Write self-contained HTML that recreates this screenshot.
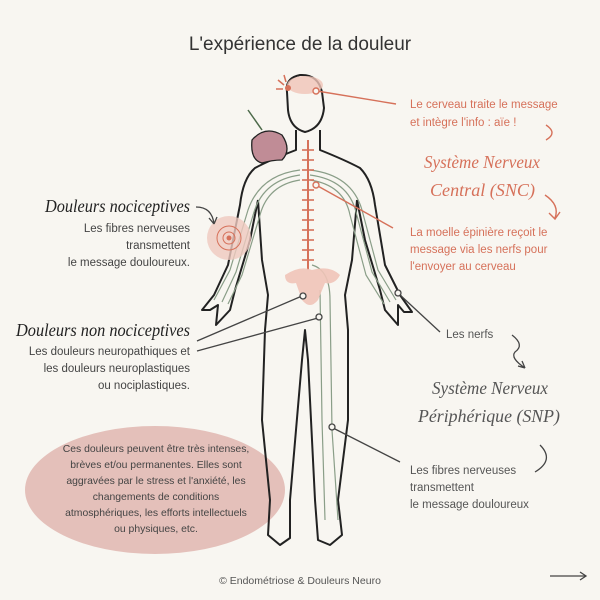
<!DOCTYPE html>
<html><head><meta charset="utf-8"><style>
body{margin:0;background:#f8f6f1;}
svg{display:block}
.s{font-family:"Liberation Sans",sans-serif;}
</style></head><body>
<svg width="600" height="600" viewBox="0 0 600 600" xmlns="http://www.w3.org/2000/svg" class="s">
<rect width="600" height="600" fill="#f8f6f1"/>
<text x="300" y="50" text-anchor="middle" font-size="19" fill="#333">L'expérience de la douleur</text>
<!-- blob -->
<ellipse cx="155" cy="490" rx="130" ry="64" fill="#e4c0ba"/>
<g font-size="10.4" fill="#444" text-anchor="middle">
<text x="156" y="452">Ces douleurs peuvent être très intenses,</text>
<text x="156" y="468">brèves et/ou permanentes. Elles sont</text>
<text x="156" y="484">aggravées par le stress et l'anxiété, les</text>
<text x="156" y="500">changements de conditions</text>
<text x="156" y="516">atmosphériques, les efforts intellectuels</text>
<text x="156" y="532">ou physiques, etc.</text>
</g>
<!-- body outline -->
<g fill="none" stroke="#222" stroke-width="2" stroke-linejoin="round">
<path d="M287 92 Q285 78 300 75 Q318 74 322 92 L324 108 Q322 128 305 132 Q290 128 288 110 Z"/>
<path d="M296 130 L296 150 Q270 160 255 168 Q243 178 240 205 L228 265 L214 295 L202 310 L210 310 L218 305 L216 325 L230 310 L235 290 L250 240 L258 200 M320 130 L320 150 Q345 160 360 168 Q372 180 375 205 L385 265 L400 295 L412 312 L404 312 L398 305 L398 325 L385 310 L380 290 L365 240 L357 200"/>
<path d="M258 200 L262 260 L268 295 L265 330 L262 420 L270 500 L268 535 L280 545 L290 538 L290 500 L302 360 L305 330 L308 360 L315 500 L318 540 L330 545 L342 535 L338 500 L348 420 L348 330 L345 295 L352 260 L357 200"/>
</g>
<!-- nerves -->
<g fill="none" stroke="#8a9e88" stroke-width="1.2">
<path d="M300 170 Q260 175 248 210 L230 270 L214 300"/>
<path d="M300 175 Q264 180 254 212 L236 272 L222 302"/>
<path d="M300 180 Q268 185 260 215 L242 275 L228 304"/>
<path d="M310 170 Q352 175 362 210 L378 270 L396 300"/>
<path d="M310 175 Q348 180 356 212 L372 272 L390 302"/>
<path d="M310 180 Q344 185 350 215 L366 275 L384 304"/>
<path d="M312 265 Q330 270 330 300 L332 430 L338 520"/>
<path d="M320 290 L322 420 L325 520"/>
</g>
<!-- spine -->
<line x1="308" y1="140" x2="308" y2="270" stroke="#d6715a" stroke-width="2"/>
<g stroke="#d6715a" stroke-width="1.6">
<line x1="302" y1="150" x2="314" y2="150"/><line x1="302" y1="160" x2="314" y2="160"/><line x1="302" y1="170" x2="314" y2="170"/><line x1="302" y1="180" x2="314" y2="180"/><line x1="302" y1="190" x2="314" y2="190"/><line x1="302" y1="200" x2="314" y2="200"/><line x1="302" y1="210" x2="314" y2="210"/><line x1="302" y1="220" x2="314" y2="220"/><line x1="302" y1="230" x2="314" y2="230"/><line x1="302" y1="240" x2="314" y2="240"/><line x1="302" y1="250" x2="314" y2="250"/><line x1="302" y1="260" x2="314" y2="260"/>
</g>
<!-- brain -->
<ellipse cx="305" cy="85" rx="18" ry="9" fill="#f0c4b8" opacity=".8"/>
<circle cx="288" cy="88" r="3" fill="#d6715a"/>
<path d="M278 80 L284 85 M276 89 L283 89 M284 75 L286 82" stroke="#d6715a" stroke-width="1.5"/>
<!-- uterus -->
<path d="M285 275 Q300 265 312 270 Q330 265 340 275 Q335 285 325 283 L318 300 Q310 310 302 300 L296 283 Q285 285 285 275Z" fill="#f0c4b8" opacity=".9"/>
<!-- pain target -->
<circle cx="229" cy="238" r="22" fill="#efc9bf" opacity=".8"/>
<circle cx="229" cy="238" r="12" fill="none" stroke="#d6715a"/>
<circle cx="229" cy="238" r="6" fill="none" stroke="#d6715a"/>
<circle cx="229" cy="238" r="2.5" fill="#d6715a"/>
<!-- beet -->
<path d="M252 140 Q265 125 282 135 Q292 150 282 160 Q272 160 262 163 Q250 160 252 140Z" fill="#c08c96" stroke="#222" stroke-width="1.3"/>
<path d="M262 130 L248 110" stroke="#4d6a4a" stroke-width="1.5"/>
<!-- connectors -->
<g stroke="#d6715a" stroke-width="1.4" fill="none">
<line x1="317" y1="91" x2="396" y2="104"/><circle cx="316" cy="91" r="3" fill="#f8f6f1"/>
<line x1="316" y1="185" x2="393" y2="228"/><circle cx="316" cy="185" r="3" fill="#f8f6f1"/>
<path d="M545 195 Q560 205 555 218 M560 212 L555 219 L549 213"/>
<path d="M546 125 Q558 133 546 140"/>
</g>
<g stroke="#444" stroke-width="1.3" fill="none">
<line x1="197" y1="341" x2="302" y2="296"/><circle cx="303" cy="296" r="3" fill="#f8f6f1"/>
<line x1="197" y1="351" x2="318" y2="318"/><circle cx="319" cy="317" r="3" fill="#f8f6f1"/>
<line x1="399" y1="294" x2="440" y2="332"/><circle cx="398" cy="293" r="3" fill="#f8f6f1"/>
<line x1="333" y1="428" x2="400" y2="462"/><circle cx="332" cy="427" r="3" fill="#f8f6f1"/>
<path d="M196 207 Q212 207 214 224 M214 224 L209 218 M214 224 L217 217"/>
<path d="M512 335 Q525 345 515 352 Q510 358 525 368 M525 368 L518 366 M525 368 L522 361"/>
<path d="M540 445 Q555 460 535 472"/>
<line x1="550" y1="576" x2="586" y2="576"/><path d="M580 572 L586 576 L580 580"/>
</g>
<!-- right texts -->
<g font-size="11.5" fill="#d6715a">
<text x="410" y="108">Le cerveau traite le message</text>
<text x="410" y="126">et intègre l'info : aïe !</text>
<text x="410" y="236">La moelle épinière reçoit le</text>
<text x="410" y="253">message via les nerfs pour</text>
<text x="410" y="270">l'envoyer au cerveau</text>
</g>
<g font-size="18" fill="#d6715a" font-style="italic" font-family="Liberation Serif,serif">
<text x="424" y="168" textLength="116" lengthAdjust="spacingAndGlyphs">Système Nerveux</text>
<text x="430" y="196" textLength="105" lengthAdjust="spacingAndGlyphs">Central (SNC)</text>
</g>
<g font-size="18" fill="#555" font-style="italic" font-family="Liberation Serif,serif">
<text x="432" y="394" textLength="116" lengthAdjust="spacingAndGlyphs">Système Nerveux</text>
<text x="418" y="422" textLength="142" lengthAdjust="spacingAndGlyphs">Périphérique (SNP)</text>
</g>
<g font-size="11.5" fill="#555">
<text x="446" y="338">Les nerfs</text>
<text x="410" y="474">Les fibres nerveuses</text>
<text x="410" y="491">transmettent</text>
<text x="410" y="508">le message douloureux</text>
</g>
<!-- left texts -->
<text x="45" y="212" font-size="18" font-style="italic" font-family="Liberation Serif,serif" fill="#222" textLength="145" lengthAdjust="spacingAndGlyphs">Douleurs nociceptives</text>
<g font-size="11.5" fill="#444" text-anchor="end">
<text x="190" y="232">Les fibres nerveuses</text>
<text x="190" y="249">transmettent</text>
<text x="190" y="266">le message douloureux.</text>
</g>
<text x="16" y="336" font-size="18" font-style="italic" font-family="Liberation Serif,serif" fill="#222" textLength="174" lengthAdjust="spacingAndGlyphs">Douleurs non nociceptives</text>
<g font-size="11.5" fill="#444" text-anchor="end">
<text x="190" y="355">Les douleurs neuropathiques et</text>
<text x="190" y="372">les douleurs neuroplastiques</text>
<text x="190" y="389">ou nociplastiques.</text>
</g>
<text x="300" y="584" text-anchor="middle" font-size="10.5" fill="#555">© Endométriose &amp; Douleurs Neuro</text>
</svg>
</body></html>
